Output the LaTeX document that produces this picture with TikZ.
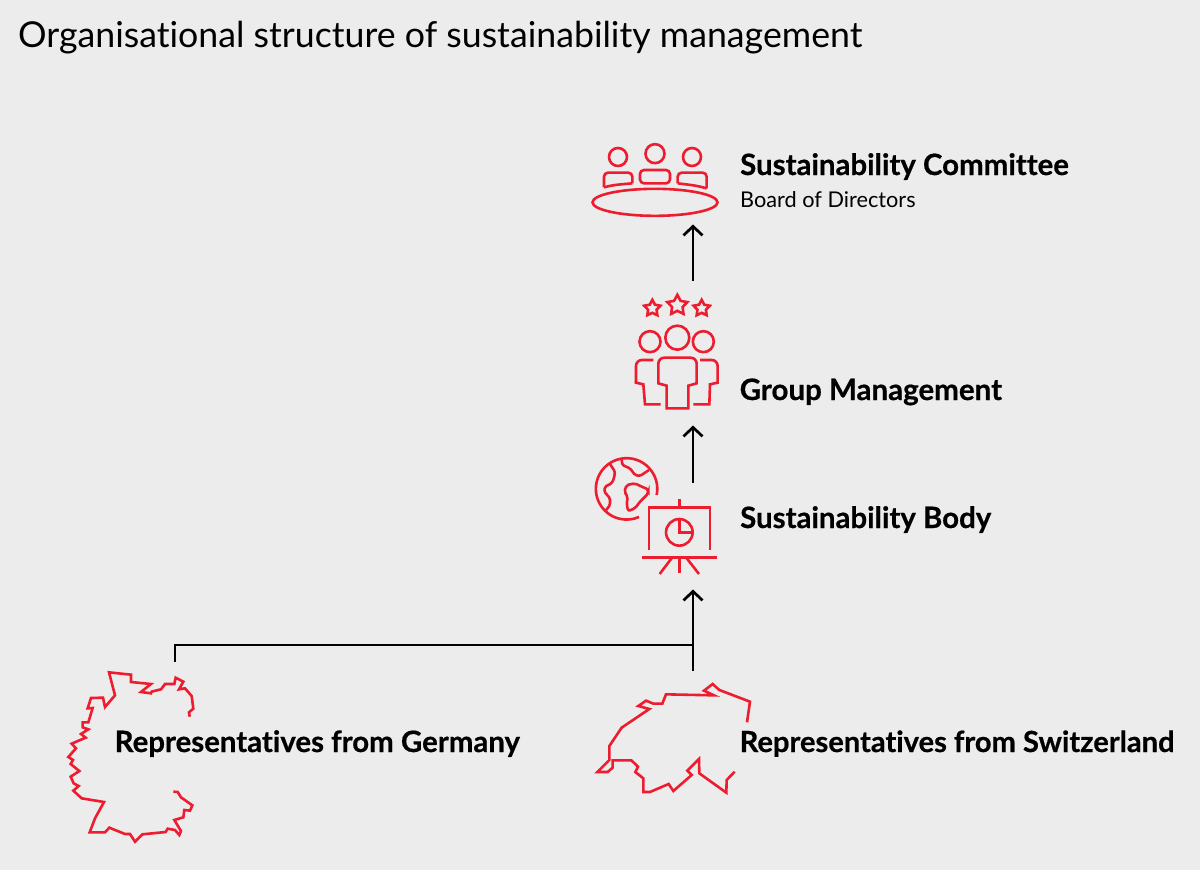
\documentclass[tikz,border=0pt]{standalone}
\usepackage{fontspec}
\setmainfont{Lato}[Ligatures=NoCommon,BoldFeatures={FakeBold=0.6}]
\usetikzlibrary{arrows.meta,shapes.geometric}
\definecolor{bgc}{HTML}{ECECEC}
\definecolor{redc}{HTML}{ED1C2E}
\tikzset{
 icon/.style={draw=redc,line width=2.6pt,line join=miter},
 flow/.style={draw=black,line width=2.7pt},
 arrowed/.style={flow,-{Straight Barb[length=9pt,width=19pt,line width=2.7pt]}},
 starry/.style={star,star points=5,star point ratio=1.9,draw=redc,line width=2.6pt,inner sep=0pt},
 lbl/.style={anchor=base west,inner sep=0pt,font=\fontsize{29.4}{32}\selectfont\bfseries},
 sublbl/.style={anchor=base west,inner sep=0pt,font=\fontsize{21.7}{24}\selectfont},
 ttl/.style={anchor=base west,inner sep=0pt,font=\fontsize{35.7}{42}\selectfont}
}
\begin{document}
\begin{tikzpicture}[x=1pt,y=-1pt]
\fill[bgc] (0,0) rectangle (1200,870);
\useasboundingbox (0,0) rectangle (1200,870);
\node[ttl] (title) at (18,47) {Organisational structure of sustainability management};
\node[lbl] (commit) at (740,175) {Sustainability Committee};
\node[sublbl] (board) at (740,207) {Board of Directors};
\node[lbl,font=\fontsize{29.5}{32}\selectfont\bfseries] (group) at (739.5,400) {Group Management};
\node[lbl] (body) at (740,528) {Sustainability Body};
\node[lbl] (ger) at (114.5,752) {Representatives from Germany};
\node[lbl,font=\fontsize{29.1}{32}\selectfont\bfseries] (swi) at (739.5,752) {Representatives from Switzerland};
% connector anchors
\coordinate (a1s) at (693,281); \coordinate (a1e) at (693,224.5);
\coordinate (a2s) at (693,483); \coordinate (a2e) at (693,425.5);
\coordinate (a3s) at (693,671); \coordinate (a3e) at (693,589.5);
\coordinate (gs) at (175,662); \coordinate (j) at (693,645);
\draw[arrowed] (a1s) -- (a1e);
\draw[arrowed] (a2s) -- (a2e);
\draw[arrowed] (a3s) -- (a3e);
\draw[flow,line join=miter] (gs) -- (gs |- j) -- (j);
% committee
\begin{scope}[shift={(570,130)},x=1/3*1pt,y=-1/3*1pt]
\draw[icon] (144,81) circle[radius=9pt];
\draw[icon] (255,71) circle[radius=9.5pt];
\draw[icon] (366,81) circle[radius=9pt];
\draw[icon,rounded corners=4pt] (102,172) -- (102,128) -- (187,128) -- (187,160);
\draw[icon] (102,172) .. controls (130,165) .. (187,160);
\draw[icon,rounded corners=4pt] (210,160) -- (210,120) -- (300,120) -- (300,160) -- cycle;
\draw[icon,rounded corners=4pt] (323,160) -- (323,128) -- (410,128) -- (410,175);
\draw[icon] (410,175) .. controls (380,167) .. (323,160);
\draw[icon] (255,217) ellipse[x radius=62.5pt,y radius=13.5pt];
\end{scope}
% group management
\begin{scope}[shift={(620,285)},x=1/3*1pt,y=-1/3*1pt]
\node[starry,minimum size=17pt] (s1) at (97,70) {};
\node[starry,minimum size=21pt] (s2) at (172,61) {};
\node[starry,minimum size=17pt] (s3) at (245,70) {};
\draw[icon] (90,170) circle[radius=10.5pt];
\draw[icon] (172,158) circle[radius=12pt];
\draw[icon] (250,170) circle[radius=10.5pt];
\draw[icon,rounded corners=6pt] (100,225) -- (48,225) -- (48,293);
\draw[icon] (48,290) -- (48,293) -- (70,298) -- (75,358) -- (122,358);
\draw[icon,rounded corners=6pt] (240,225) -- (293,225) -- (293,293);
\draw[icon] (293,290) -- (293,293) -- (270,298) -- (268,358) -- (220,358);
\draw[icon,rounded corners=6pt] (115,295) -- (115,218) -- (230,218) -- (230,295);
\draw[icon] (115,290) -- (115,295) -- (140,302) -- (140,370) -- (205,370) -- (205,302) -- (230,295) -- (230,290);
\end{scope}
% sustainability body
\begin{scope}[shift={(585,450)},x=1/3*1pt,y=-1/3*1pt]
\draw[icon] (215,135) arc[start angle=-11.5,end angle=294,radius=30.7pt];
\draw[icon,rounded corners=1.5pt] (75,42) -- (90,65) -- (87,85) -- (80,100) -- (60,110) -- (58,125) -- (75,145) -- (75,165) -- (62,182);
\draw[icon,rounded corners=1.5pt] (110,28) -- (112,45) -- (135,55) -- (150,75) -- (165,78) -- (192,60);
\draw[icon,rounded corners=2pt] (118,125) -- (125,105) -- (150,100) -- (170,110) -- (190,118) -- (190,130) -- (165,155) -- (150,175) -- (130,183) -- (125,165) -- (128,140) -- cycle;
\draw[icon] (283,148) -- (283,172);
\draw[icon] (192,300) -- (192,172) -- (375,172) -- (375,300);
\draw[icon] (170,322) -- (397,322);
\draw[icon] (262,322) -- (224,372);
\draw[icon] (283,322) -- (283,368);
\draw[icon] (303,322) -- (342,372);
\draw[icon] (283,247) circle[radius=13.3pt];
\draw[icon] (283,207) -- (283,247) -- (323,247);
\end{scope}
% Germany
\begin{scope}[shift={(55,660)},x=1/3*1pt,y=-1/3*1pt]
\draw[icon] (404,170) -- (402,157) -- (415,146) -- (410,108) -- (390,85) -- (372,88) -- (385,65) -- (362,53) -- (358,72) -- (330,72) -- (318,88) -- (290,95) -- (288,100) -- (258,96) -- (288,72) -- (228,66) -- (228,44) -- (162,37) -- (180,106) -- (150,141) -- (144,113) -- (108,114) -- (98,145) -- (113,144) -- (100,187) -- (83,187) -- (83,202) -- (100,208) -- (78,222) -- (92,233) -- (50,251) -- (63,265) -- (40,291) -- (54,300) -- (47,312) -- (73,333) -- (47,350) -- (56,370) -- (71,378) -- (55,392) -- (80,415) -- (147,426) -- (120,475) -- (104,517) -- (150,517) -- (163,503) -- (210,522) -- (225,522) -- (240,545) -- (262,523) -- (332,516) -- (338,506) -- (360,510) -- (373,525) -- (378,513) -- (358,480) -- (385,472) -- (388,450) -- (405,452) -- (412,436) -- (378,412) -- (368,396) -- (355,395);
\end{scope}
% Switzerland
\begin{scope}[shift={(590,670)},x=1/3*1pt,y=-1/3*1pt]
\draw[icon] (471,157) -- (480,95) -- (388,60) -- (368,42) -- (342,62) -- (372,76) -- (228,73) -- (217,101) -- (190,101) -- (168,92) -- (145,108) -- (178,117) -- (95,173) -- (58,228) -- (58,270) -- (22,306) -- (53,306) -- (68,293) -- (68,271) -- (124,271) -- (144,290) -- (136,306) -- (160,325) -- (160,366) -- (180,366) -- (236,342) -- (250,363) -- (305,315) -- (292,302) -- (327,267) -- (328,310) -- (409,368) -- (410,330) -- (434,305);
\end{scope}
\end{tikzpicture}
\end{document}
